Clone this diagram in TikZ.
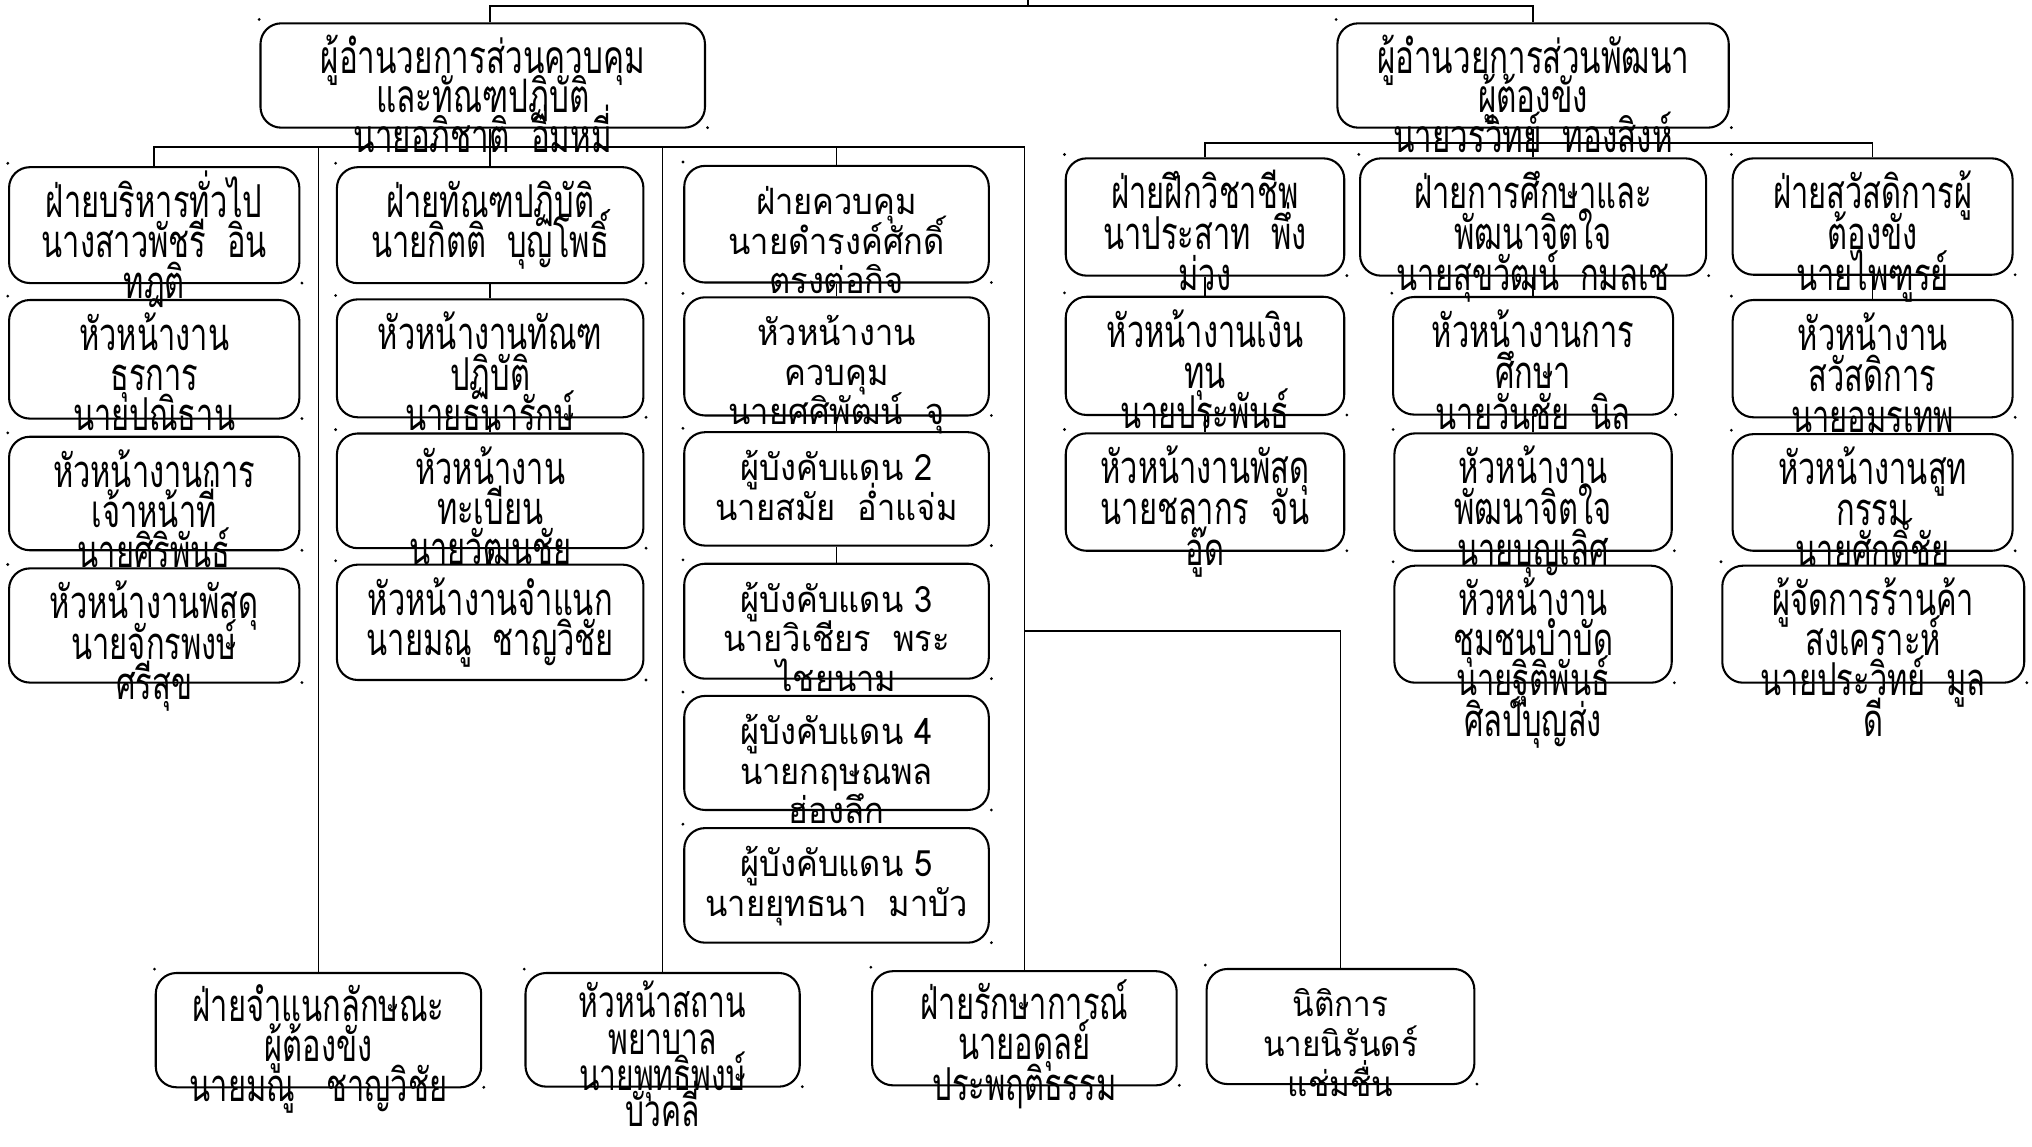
\documentclass[tikz,border=0pt]{standalone}
\usepackage{fontspec}
\newfontfamily\thcond[Script=Thai,FakeStretch=0.68]{Loma}
\newfontfamily\thnorm[Script=Thai,FakeStretch=0.9]{Loma}
\usetikzlibrary{calc}
\newcommand\ftop{\thcond\fontsize{17.8pt}{20pt}\selectfont}
\newcommand\fcond{\thcond\fontsize{17.5pt}{20pt}\selectfont}
\newcommand\fsmall{\thcond\fontsize{17pt}{19pt}\selectfont}
\newcommand\floma{\thnorm\fontsize{14pt}{16pt}\selectfont}
\newcommand\fniti{\thnorm\fontsize{13.5pt}{16pt}\selectfont}
\tikzset{
  boxst/.style={draw, line width=0.8pt, rounded corners=8pt, inner sep=0pt},
  conn/.style={line width=0.65pt},
  mainline/.style={line width=0.8pt},
  lbl/.style={inner sep=0pt, anchor=mid, text depth=1pt},
  dotst/.style={fill=black},
}
% box: name, x1, y1, x2, y2
\newcommand\bx[5]{%
  \node[boxst, minimum width={(#4-#2)*0.5pt}, minimum height={(#5-#3)*0.5pt}] (#1) at ({(#2+#4)/2},{(#3+#5)/2}) {};
  \fill[dotst] ({#2-1},{#3-3}) circle (0.6pt);
  \fill[dotst] ({#4+2},{#5}) circle (0.6pt);
}
% text: name, font, first offset, spacing, lines
\newcommand\tx[5]{%
  \foreach \l [count=\i] in {#5} {
    \node[lbl, font=#2] (#1-t\i) at ($(#1.north)+(0,{#3+#4*(\i-1)})$) {\l};
  }}
\begin{document}
\begin{tikzpicture}[x=0.5pt,y=-0.5pt]
\useasboundingbox (0,0) rectangle (1568,885);
\fill[white] (0,0) rectangle (1568,885);

% top level
\bx{A}{201}{18}{544}{98.5}
\bx{B}{1032}{18}{1334}{98.5}
% column 1
\bx{c1a}{7}{129}{231}{218.4}
\bx{c1b}{7}{231.5}{231}{323}
\bx{c1c}{7}{337}{231}{424.6}
\bx{c1d}{7}{438.6}{231}{526.7}
% column 2
\bx{c2a}{260}{129}{496.5}{218.5}
\bx{c2b}{260}{231}{496.5}{322}
\bx{c2c}{260}{334.5}{496.5}{423}
\bx{c2d}{260}{435.7}{496.5}{524.7}
% column 3
\bx{c3a}{528}{128}{763}{218}
\bx{c3b}{528}{229.4}{763}{320.6}
\bx{c3c}{528}{333.5}{763}{421}
\bx{c3d}{528}{435}{763}{523.7}
\bx{c3e}{528}{537}{763}{625}
\bx{c3f}{528}{639}{763}{727.4}
% right columns
\bx{r1a}{822.4}{122.2}{1037.3}{212.7}
\bx{r1b}{822.4}{229}{1037.3}{320.2}
\bx{r1c}{822.4}{334.4}{1037.3}{425}
\bx{r2a}{1049.5}{122.2}{1316.5}{212.7}
\bx{r2b}{1075}{229.2}{1291}{319.9}
\bx{r2c}{1076}{334.4}{1290}{425}
\bx{r2d}{1076}{436.5}{1290}{526.8}
\bx{r3a}{1337}{122.2}{1553}{212}
\bx{r3b}{1337}{231.5}{1553}{322}
\bx{r3c}{1337}{335}{1553}{425}
\bx{r3d}{1329}{436.5}{1562}{526.8}
% bottom row
\bx{b1}{120.2}{750.8}{371.3}{839}
\bx{b2}{405.5}{750.8}{617.1}{838.5}
\bx{b3}{673}{749.4}{908}{837.5}
\bx{b4}{931.1}{747.7}{1137.7}{836.5}

% connectors
\coordinate (tm) at (793.5,4.6);
\coordinate (tt) at (793.5,0);
\coordinate (busL) at (0,113.5);
\coordinate (busR) at (0,110.1);
\coordinate (bry) at (0,487);
\draw[mainline] (A.north -| c2a.north) |- (tm) -| (B.north);
\draw[mainline] (tm) -- (tt);
\draw[conn] (A.south -| c2a.north) -- (c2a.north);
\draw[conn] (c1a.north) |- (b3.north |- busL) -- (b3.north);
\draw[conn] (b1.north) -- (b1.north |- busL);
\draw[conn] (b2.north) -- (b2.north |- busL);
\draw[conn] (c3a.north) -- (c3a.north |- busL);
\draw[conn] (b3.north |- bry) -| (b4.north);
\draw[conn] (c2a.south) -- (c2b.north);
\draw[conn] (c2b.south) -- (c2c.north);
\draw[conn] (c2c.south) -- (c2d.north);
\draw[conn] (c3a.south) -- (c3b.north);
\draw[conn] (c3b.south) -- (c3c.north);
\draw[conn] (c3c.south) -- (c3d.north);
\draw[conn] (B.south) -- (r2a.north);
\draw[conn] (r1a.north) |- (r3a.north |- busR) -- (r3a.north);
\draw[conn] (r1a.south) -- (r1b.north);
\draw[conn] (r1b.south) -- (r1c.north);
\draw[conn] (r2a.south) -- (r2b.north);
\draw[conn] (r2b.south) -- (r2c.north);
\draw[conn] (r3a.south) -- (r3b.north);
\draw[conn] (r3b.south) -- (r3c.north);

% texts
\tx{A}{\ftop}{35}{30.5}{ผู้อำนวยการส่วนควบคุม, และทัณฑปฏิบัติ, นายอภิชาติ~~อิ่มหมี่}
\tx{B}{\ftop}{35}{30.5}{ผู้อำนวยการส่วนพัฒนา, ผู้ต้องขัง, นายวรวิทย์~~ทองสิงห์}

\tx{c1a}{\fcond}{35.5}{31}{ฝ่ายบริหารทั่วไป, นางสาวพัชรี~~อิน, ทฎติ}
\tx{c1b}{\fcond}{35.5}{31}{หัวหน้างาน, ธุรการ, นายปณิธาน}
\tx{c1c}{\fcond}{35.5}{31}{หัวหน้างานการ, เจ้าหน้าที่, นายศิริพันธ์}
\tx{c1d}{\fcond}{35.5}{31}{หัวหน้างานพัสดุ, นายจักรพงษ์, ศรีสุข}

\tx{c2a}{\fcond}{35.5}{31}{ฝ่ายทัณฑปฏิบัติ, นายกิตติ~~บุญโพธิ์}
\tx{c2b}{\fcond}{35.5}{31}{หัวหน้างานทัณฑ, ปฏิบัติ, นายธนารักษ์}
\tx{c2c}{\fcond}{35.5}{31}{หัวหน้างาน, ทะเบียน, นายวัฒนชัย}
\tx{c2d}{\fcond}{35.5}{31}{หัวหน้างานจำแนก, นายมณู~~ชาญวิชัย}

\tx{c3a}{\floma}{34}{30.5}{ฝ่ายควบคุม, นายดำรงค์ศักดิ์, ตรงต่อกิจ}
\tx{c3b}{\floma}{34}{30.5}{หัวหน้างาน, ควบคุม, นายศศิพัฒน์~~จุ}
\tx{c3c}{\floma}{34}{31}{ผู้บังคับแดน 2, นายสมัย~~อ่ำแจ่ม}
\tx{c3d}{\floma}{34}{30.5}{ผู้บังคับแดน 3, นายวิเชียร~~พระ, ไชยนาม}
\tx{c3e}{\floma}{34}{30.5}{ผู้บังคับแดน 4, นายกฤษณพล, ฮ่องลึก}
\tx{c3f}{\floma}{34}{31}{ผู้บังคับแดน 5, นายยุทธนา~~มาบัว}

\tx{r1a}{\fcond}{35.5}{31.5}{ฝ่ายฝึกวิชาชีพ, นาประสาท~~พึ่ง, ม่วง}
\tx{r1b}{\fcond}{35.5}{31.5}{หัวหน้างานเงิน, ทุน, นายประพันธ์}
\tx{r1c}{\fcond}{35.5}{31.5}{หัวหน้างานพัสดุ, นายชลากร~~จัน, อู๊ด}
\tx{r2a}{\fcond}{35.5}{31.5}{ฝ่ายการศึกษาและ, พัฒนาจิตใจ, นายสุขวัฒน์~~กมลเช}
\tx{r2b}{\fcond}{35.5}{31.5}{หัวหน้างานการ, ศึกษา, นายวันชัย~~นิล}
\tx{r2c}{\fcond}{35.5}{31.5}{หัวหน้างาน, พัฒนาจิตใจ, นายบุญเลิศ}
\tx{r2d}{\fcond}{35}{31}{หัวหน้างาน, ชุมชนบำบัด, นายฐิติพันธ์, ศิลป์บุญส่ง}
\tx{r3a}{\fcond}{35.5}{31.5}{ฝ่ายสวัสดิการผู้, ต้องขัง, นายไพฑูรย์}
\tx{r3b}{\fcond}{35.5}{31.5}{หัวหน้างาน, สวัสดิการ, นายอมรเทพ}
\tx{r3c}{\fcond}{35.5}{31.5}{หัวหน้างานสูท, กรรม, นายศักดิ์ชัย}
\tx{r3d}{\fcond}{35}{31}{ผู้จัดการร้านค้า, สงเคราะห์, นายประวิทย์~~มูล, ดี}

\tx{b1}{\fcond}{34}{31}{ฝ่ายจำแนกลักษณะ, ผู้ต้องขัง, นายมณู~~~ชาญวิชัย}
\tx{b2}{\fsmall}{31}{28}{หัวหน้าสถาน, พยาบาล, นายพุทธิพงษ์, บัวคลี่}
\tx{b3}{\fcond}{34}{31}{ฝ่ายรักษาการณ์, นายอดุลย์, ประพฤติธรรม}
\tx{b4}{\fniti}{33}{31}{นิติการ, นายนิรันดร์, แช่มชื่น}
\end{tikzpicture}
\end{document}
